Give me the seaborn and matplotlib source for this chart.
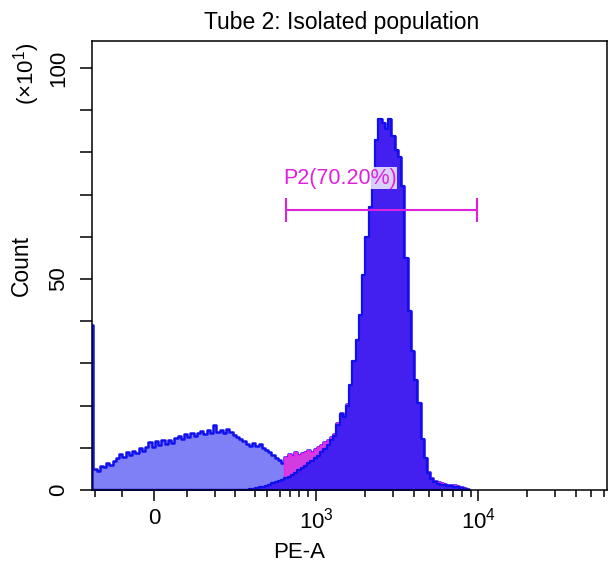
import numpy as np
import matplotlib
matplotlib.use('Agg')
import matplotlib.pyplot as plt
import seaborn as sns
from matplotlib.ticker import FixedLocator

sns.set_theme(style='ticks')
plt.rcParams['font.family'] = ['Liberation Sans', 'DejaVu Sans']
plt.rcParams['mathtext.fontset'] = 'custom'
plt.rcParams['mathtext.rm'] = 'Liberation Sans'
plt.rcParams['mathtext.default'] = 'regular'
plt.rcParams['text.color'] = 'black'
plt.rcParams['axes.labelcolor'] = 'black'
plt.rcParams['xtick.color'] = 'black'
plt.rcParams['ytick.color'] = 'black'

# PE-A display scale in "decades": 0 sits at 2, 10^3 at 3, 10^4 at 4
x_lo, x_hi = 1.617, 4.796
spike_edge = 1.625          # first (narrow) channel ends here
bin_width = 0.02

# counts (x10), first channel pile-up
spike_count = 39.0

# all events, regular bins from spike_edge
all_events = [
    5.0, 4.6, 5.8, 5.4, 6.3, 5.9, 6.8, 7.5, 8.6, 7.8,
    9.0, 8.2, 9.3, 8.7, 10.0, 9.2, 10.3, 11.3, 10.2, 11.5,
    10.6, 11.8, 11.0, 11.9, 11.2, 12.4, 12.9, 12.0, 13.3, 12.6,
    13.5, 12.8, 13.4, 14.0, 13.2, 14.1, 13.6, 15.3, 13.8, 14.2,
    13.5, 14.4, 13.7, 13.0, 12.5, 12.0, 11.6, 11.0, 10.5, 11.2,
    10.4, 10.9, 10.0, 9.4, 9.0, 8.4, 7.6, 7.1, 6.3, 7.8,
    8.6, 8.0, 8.9, 8.3, 8.7, 9.0, 9.4, 9.1, 9.6, 10.2,
    10.6, 11.3, 11.9, 12.6, 13.2, 15.8, 18.3, 17.6, 20.3, 25.0,
    30.5, 35.5, 41.5, 51.0, 60.0, 67.0, 75.0, 83.0, 88.0, 87.0,
    85.5, 88.0, 84.0, 80.5, 79.0, 72.0, 55.0, 42.5, 33.0, 26.0,
    20.5, 12.0, 7.5, 4.3, 2.8, 2.1, 1.8, 1.6, 1.5, 1.3,
    1.2, 1.1, 1.0, 0.8, 0.5, 0.2,
]

# bright (PE+) population, same bins
high_pop = [0.0] * 48 + [
    0.2, 0.3, 0.4, 0.6, 0.8, 1.0, 1.3, 1.6, 1.9, 2.1,
    2.4, 2.8, 3.1, 3.6, 4.1, 4.8, 5.2, 5.8, 6.3, 6.9,
    7.5, 8.1, 8.9, 9.7, 10.6, 11.8, 12.8, 15.5, 18.0, 17.2,
    20.0, 25.0, 30.5, 35.5, 41.5, 51.0, 60.0, 67.0, 75.0, 83.0,
    88.0, 87.0, 85.5, 88.0, 84.0, 80.5, 79.0, 72.0, 55.0, 42.5,
    33.0, 26.0, 20.5, 12.0, 7.5, 4.0, 2.5, 1.8, 1.5, 1.3,
    1.2, 1.0, 0.9, 0.8, 0.6, 0.4, 0.2, 0.0,
]

gate_name = 'P2(70.20%)'
gate_lo, gate_hi, gate_y = 2.815, 3.994, 66.4

major_x = [2, 3, 4]
major_x_labels = ['0', '$10^3$', '$10^4$']
minor_x = [1.636, 1.802, 2.204, 2.377, 2.5, 2.623, 2.698, 2.778, 2.84, 2.895, 2.951,
           3.301, 3.477, 3.602, 3.699, 3.778, 3.845, 3.903, 3.954,
           4.301, 4.477, 4.602, 4.699, 4.778]

light = '#8080f6'
dark = '#4420f0'
outline = '#1010ee'
magenta = '#d23ce0'
gate_col = '#dd22dd'

edges = np.concatenate([[x_lo], spike_edge + bin_width * np.arange(len(all_events) + 1)])
centers = (edges[:-1] + edges[1:]) / 2
total = np.array([spike_count] + all_events)
high = np.array([0.0] + high_pop)

fig = plt.figure(figsize=(6.09, 5.71), dpi=100)
ax = fig.add_axes([92 / 609, 1 - 490 / 571, 515 / 609, 449 / 571])

# all events
sns.histplot(x=centers, weights=total, bins=list(edges), element='step', fill=True,
             facecolor=light, edgecolor=outline, linewidth=1.8, ax=ax)
# events inside the P2 gate
j0 = int(np.searchsorted(edges, 2.80))
sns.histplot(x=centers[j0:], weights=total[j0:], bins=list(edges[j0:]), element='step', fill=True,
             facecolor=magenta, edgecolor='#ee22ee', linewidth=1.0, ax=ax)
# bright population
sns.histplot(x=centers, weights=high, bins=list(edges), element='step', fill=True,
             facecolor=dark, edgecolor=outline, linewidth=1.6, ax=ax)

# gate marker
ax.hlines(gate_y, gate_lo, gate_hi, color=gate_col, linewidth=1.5, zorder=5)
ax.vlines([gate_lo, gate_hi], gate_y - 2.8, gate_y + 2.8, color=gate_col, linewidth=1.5, zorder=5)
ax.text(gate_lo - 0.02, gate_y + 7.5, gate_name, color=gate_col, fontsize=15.5,
        ha='left', va='center', zorder=6,
        bbox=dict(facecolor='white', alpha=0.8, edgecolor='none', pad=0.5))

ax.set_xlim(x_lo, x_hi)
ax.set_ylim(0, 106.4)
ax.set_xticks(major_x)
ax.set_xticklabels(major_x_labels)
ax.xaxis.set_minor_locator(FixedLocator(minor_x))
ax.set_yticks([0, 50, 100])
ax.yaxis.set_minor_locator(FixedLocator([10, 20, 30, 40, 60, 70, 80, 90]))

ax.tick_params(axis='x', which='major', length=8, width=1.1, pad=5, labelsize=16)
ax.tick_params(axis='x', which='minor', length=5, width=1.1)
ax.tick_params(axis='y', which='both', length=8.5, width=1.1, pad=8, labelsize=16)
for lab in ax.get_yticklabels():
    lab.set_rotation(90)
    lab.set_va('center')

for sp in ax.spines.values():
    sp.set_visible(True)
    sp.set_linewidth(1.1)
    sp.set_color('black')

ax.set_xlabel('PE-A', fontsize=16)
ax.set_ylabel('Count', fontsize=16.5)
ax.xaxis.set_label_coords(0.402, -0.115)
ax.yaxis.set_label_coords(-0.1146, 0.5)
ax.text(-0.127, 0.928, '(×10$^1$)', transform=ax.transAxes, rotation=90,
        ha='center', va='center', fontsize=16)
ax.set_title('Tube 2: Isolated population', fontsize=16.5, x=0.485, pad=9)

fig.savefig('out.png', dpi=100)
